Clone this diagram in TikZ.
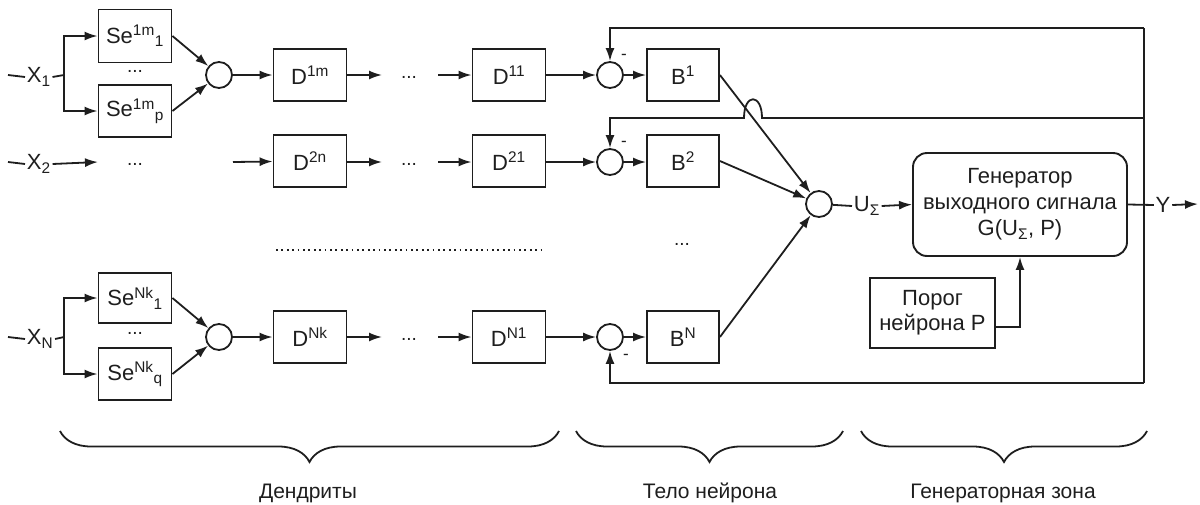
\documentclass[tikz,border=0pt]{standalone}
\usepackage{fontspec}
\setmainfont{Liberation Sans}
\usetikzlibrary{arrows.meta,decorations.pathreplacing}
\definecolor{ink}{RGB}{30,30,30}
\begin{document}
\begin{tikzpicture}[x=1pt,y=-1pt,
  line width=1.8pt, color=ink,
  every node/.style={text=ink},
  blk/.style={draw, line width=1.9pt, minimum width=73pt, minimum height=52pt, inner sep=0pt, font=\fontsize{22}{26}\selectfont},
  sm/.style={draw, circle, minimum size=26pt, inner sep=0pt, line width=1.8pt},
  arr/.style={-{Latex[length=13pt,width=9pt]}},
  lbl/.style={inner sep=1pt, font=\fontsize{22}{26}\selectfont},
  dots/.style={inner sep=0pt, font=\fontsize{19}{22}\selectfont},
  minus/.style={inner sep=0pt, font=\fontsize{17}{20}\selectfont},
  txt/.style={inner sep=0pt, font=\fontsize{21}{25}\selectfont},
  brc/.style={decorate, decoration={brace, mirror, amplitude=31pt}, line width=1.8pt}
]
\useasboundingbox (0,0) rectangle (1200,504);

% ---------- row 1 ----------
\coordinate (x1s) at (8,75);
\node[lbl, anchor=west] (X1) at (25,77) {X\textsubscript{1}};
\coordinate (sp1) at (64,75);
\node[blk, minimum height=53pt] (Se11) at (135,36) {Se\textsuperscript{1m}\textsubscript{1}};
\node[blk] (Se1p) at (135,111) {Se\textsuperscript{1m}\textsubscript{p}};
\node[dots] (d1a) at (135,71) {...};
\node[sm] (a1) at (219,75) {};
\node[blk] (D1m) at (310,75) {D\textsuperscript{1m}};
\coordinate (e1) at (382,75);
\node[dots] (d1b) at (409,77) {...};
\coordinate (f1) at (438,75);
\node[blk] (D11) at (509,75) {D\textsuperscript{11}};
\node[sm] (c1) at (610,75) {};
\node[blk, minimum width=72pt] (B1) at (683,75) {B\textsuperscript{1}};
\node[minus] (m1) at (624,57) {-};

\draw (x1s) -- (X1.west);
\draw (X1.east) -- (sp1);
\draw[arr] (sp1) |- (Se11.west);
\draw[arr] (sp1) |- (Se1p.west);
\draw[arr] (Se11.east) -- (a1);
\draw[arr] (Se1p.east) -- (a1);
\draw[arr] (a1) -- (D1m);
\draw[arr] (D1m) -- (e1);
\draw[arr] (f1) -- (D11);
\draw[arr] (D11) -- (c1);
\draw[arr] (c1) -- (B1);

% ---------- row 2 ----------
\coordinate (x2s) at (8,162);
\node[lbl, anchor=west] (X2) at (25,164) {X\textsubscript{2}};
\coordinate (e2a) at (98,162);
\node[dots] (d2a) at (135,164) {...};
\coordinate (f2a) at (233,162);
\node[blk] (D2n) at (310,161) {D\textsuperscript{2n}};
\coordinate (e2) at (382,162);
\node[dots] (d2b) at (409,164) {...};
\coordinate (f2) at (438,162);
\node[blk] (D21) at (509,161) {D\textsuperscript{21}};
\node[sm] (c2) at (610,162) {};
\node[blk, minimum width=72pt] (B2) at (683,161) {B\textsuperscript{2}};
\node[minus] (m2) at (624,144) {-};

\draw (x2s) -- (X2.west);
\draw[arr] (X2.east) -- (e2a);
\draw[arr] (f2a) -- (D2n);
\draw[arr] (D2n.east |- e2) -- (e2);
\draw[arr] (f2) -- (D21.west |- f2);
\draw[arr] (D21.east |- c2) -- (c2);
\draw[arr] (c2) -- (B2.west |- c2);

% ---------- separator ----------
\coordinate (dl1) at (276,250);
\coordinate (dl2) at (545,250);
\draw[line width=1.8pt, dash pattern=on 1.8pt off 3.6pt] (dl1) -- (dl2);
\node[dots] (d3) at (682,244) {...};

% ---------- row N ----------
\coordinate (xNs) at (8,337);
\node[lbl, anchor=west] (XN) at (25,339) {X\textsubscript{N}};
\coordinate (spN) at (64,337);
\node[blk, minimum height=50pt] (SeN1) at (135,298) {Se\textsuperscript{Nk}\textsubscript{1}};
\node[blk] (SeNq) at (135,374) {Se\textsuperscript{Nk}\textsubscript{q}};
\node[dots] (dNa) at (135,333) {...};
\node[sm] (aN) at (219,337) {};
\node[blk] (DNk) at (310,337) {D\textsuperscript{Nk}};
\coordinate (eN) at (382,337);
\node[dots] (dNb) at (409,339) {...};
\coordinate (fN) at (438,337);
\node[blk] (DN1) at (509,337) {D\textsuperscript{N1}};
\node[sm] (cN) at (610,337) {};
\node[blk, minimum width=72pt] (BN) at (683,337) {B\textsuperscript{N}};
\node[minus] (mN) at (626,357) {-};

\draw (xNs) -- (XN.west);
\draw (XN.east) -- (spN);
\draw[arr] (spN) |- (SeN1.west);
\draw[arr] (spN) |- (SeNq.west);
\draw[arr] (SeN1.east) -- (aN);
\draw[arr] (SeNq.east) -- (aN);
\draw[arr] (aN) -- (DNk);
\draw[arr] (DNk) -- (eN);
\draw[arr] (fN) -- (DN1);
\draw[arr] (DN1) -- (cN);
\draw[arr] (cN) -- (BN);

% ---------- summation and generator ----------
\node[sm] (S) at (819,204) {};
\draw[arr] (B1.east) -- (S);
\draw[arr] (B2.east) -- (S);
\draw[arr] (BN.east) -- (S);

\node[lbl, anchor=west] (U) at (852,206) {U\textsubscript{Σ}};
\node[draw, rounded corners=14pt, line width=1.9pt, minimum width=214pt, minimum height=103pt,
      align=center, inner sep=0pt, font=\fontsize{22}{26}\selectfont] (Gen) at (1020,204.5)
      {Генератор\\выходного сигнала\\G(U\textsubscript{Σ}, P)};
\draw (S) -- (U.west);
\draw[arr] (U.east) -- (Gen.west);

\node[lbl] (Y) at (1163,205) {Y};
\coordinate (yend) at (1198,204);
\draw (Gen.east) -- (Y.west);
\draw[arr] (Y.east) -- (yend);

\node[draw, line width=1.9pt, minimum width=125pt, minimum height=70pt, align=center,
      inner sep=0pt, font=\fontsize{22}{25}\selectfont] (Por) at (932.5,313) {Порог\\нейрона P};
\coordinate (pp) at (995,327);
\draw[arr] (Por.east |- pp) -| (Gen.south);

% ---------- feedback ----------
\coordinate (j) at (1144,204);
\coordinate (t1) at (1144,28);
\coordinate (t2) at (1144,118);
\coordinate (t3) at (1144,383);
\coordinate (h1) at (762,118);
\coordinate (h2) at (744,118);
\draw (t1) -- (t3);
\draw[arr] (t1) -| (c1.north);
\draw[arr] (t2) -- (h1) .. controls (762,93) and (744,93) .. (h2) -| (c2.north);
\draw[arr] (t3) -| (cN.south);

% ---------- braces ----------
\draw[brc] (60,431) -- (559,431);
\draw[brc] (576,431) -- (843,431);
\draw[brc] (861,431) -- (1147,431);
\node[txt] (L1) at (308,493) {Дендриты};
\node[txt] (L2) at (710,493) {Тело нейрона};
\node[txt] (L3) at (1003,493) {Генераторная зона};
\end{tikzpicture}
\end{document}
